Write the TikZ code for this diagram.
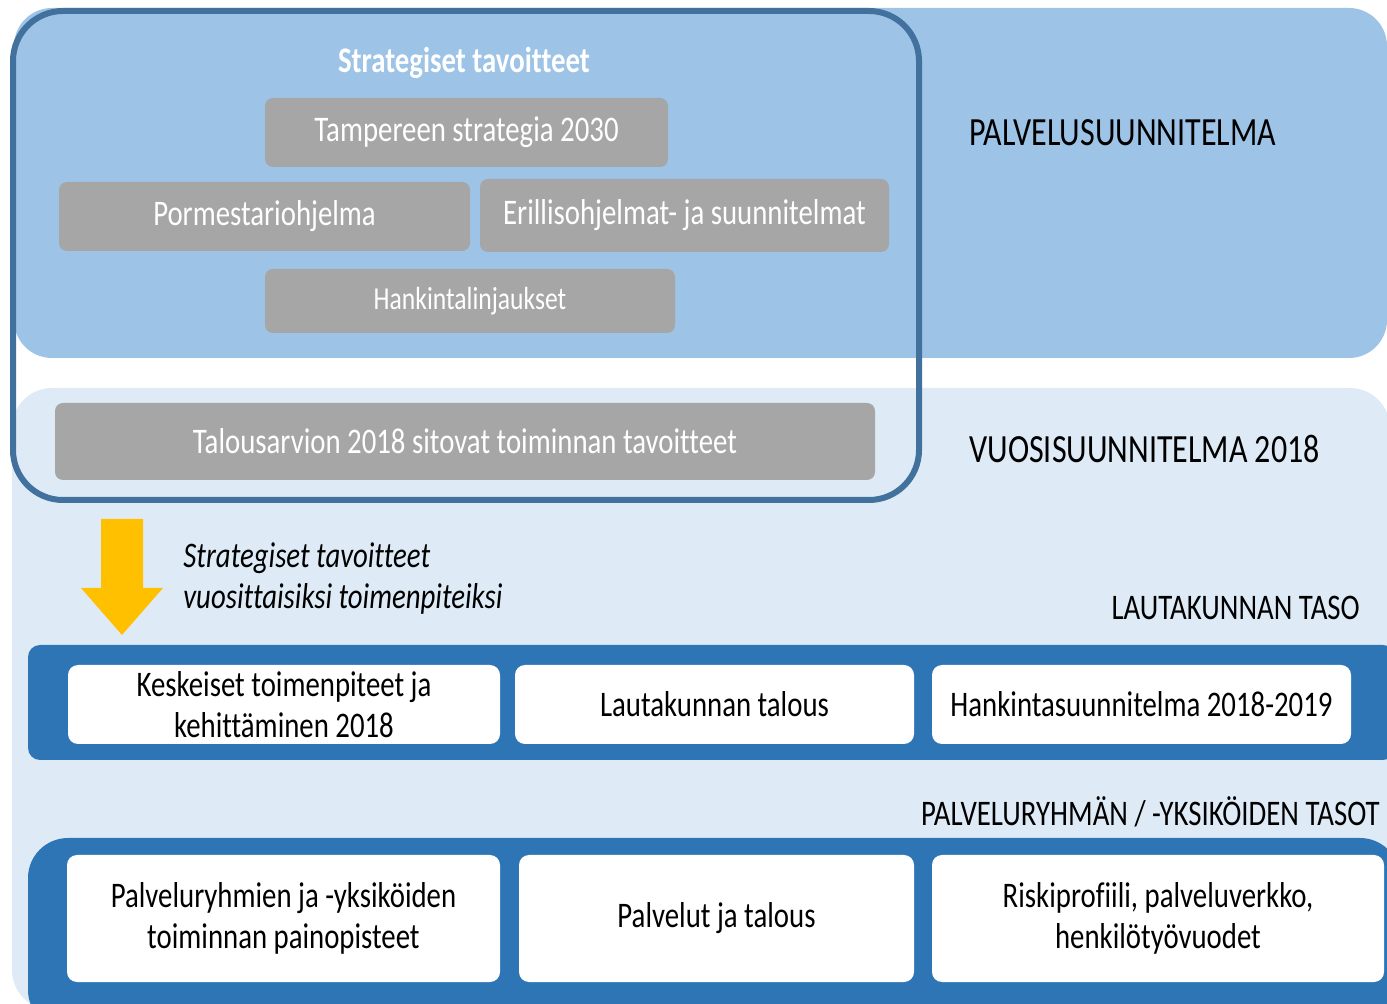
\documentclass[tikz,border=0pt]{standalone}
\usepackage{fontspec}
\setmainfont{Carlito}[FakeStretch=0.8, Ligatures=NoCommon]
\usetikzlibrary{positioning}
\definecolor{planblue}{HTML}{9DC3E6}
\definecolor{yearblue}{HTML}{DEEBF7}
\definecolor{frameblue}{HTML}{41719C}
\definecolor{levelblue}{HTML}{2E75B6}
\definecolor{goalgrey}{HTML}{A6A6A6}
\definecolor{arrowyellow}{HTML}{FFC000}

\begin{document}
\begin{tikzpicture}[
    x=0.5pt, y=-0.5pt,
    goal/.style={rectangle, rounded corners=4pt, fill=goalgrey, text=white, align=center, inner sep=0pt, font=\fontsize{18}{21}\selectfont},
    task/.style={rectangle, rounded corners=5pt, fill=white, align=center, inner sep=0pt, font=\fontsize{18}{20.5}\selectfont},
    levelname/.style={inner sep=0pt, anchor=east, yshift=-1pt, font=\fontsize{18}{21}\selectfont},
    planname/.style={inner sep=0pt, anchor=west, yshift=-1pt, font=\fontsize{20}{23}\selectfont}
  ]
    \useasboundingbox (0,0) rectangle (1387,1004);
    \clip (0,0) rectangle (1387,1004);

    \fill[planblue, rounded corners=19pt] (14,8) rectangle (1387,358);
    \fill[yearblue, rounded corners=20pt] (12,388) rectangle (1390,1010);
    \fill[levelblue, rounded corners=6pt] (28,645) rectangle (1395,760);
    \fill[levelblue, rounded corners=20pt] (28,838) rectangle (1400,1030);
    \draw[frameblue, line width=3pt, rounded corners=25pt] (13,11) rectangle (919,500);

    \node[text=white, yshift=-1pt, font=\bfseries\fontsize{18}{21}\selectfont] (strat) at (464,61) {Strategiset tavoitteet};
    \node[goal, minimum width=201.5pt, minimum height=34.5pt] (tre) at (466.5,132.5) {Tampereen strategia 2030};
    \node[goal, minimum width=205.5pt, minimum height=34.5pt] (pormestari) at (264.5,216.5) {Pormestariohjelma};
    \node[goal, minimum width=204.5pt, minimum height=36.5pt] (erillis) at (684.5,215.5) {Erillisohjelmat- ja suunnitelmat};
    \node[goal, minimum width=205pt, minimum height=32pt, font=\fontsize{16}{19}\selectfont] (hankinta) at (470,301) {Hankintalinjaukset};
    \node[goal, minimum width=410pt, minimum height=38.5pt] (talousarvio) at (465,441.5) {Talousarvion 2018 sitovat toiminnan tavoitteet};

    \node[planname] (palvelus) at (969,131) {PALVELUSUUNNITELMA};
    \node[planname] (vuosi) at (969,447) {VUOSISUUNNITELMA 2018};

    \fill[arrowyellow] (101,519) -- (143,519) -- (143,588) -- (163,588) -- (122,635) -- (81,588) -- (101,588) -- cycle;
    \node[inner sep=0pt, anchor=west, align=left, yshift=-1pt, font=\itshape\fontsize{18}{20.5}\selectfont] (vuositoimet) at (183,576.5) {Strategiset tavoitteet\\vuosittaisiksi toimenpiteiksi};

    \node[levelname] (lautakunta) at (1360,606) {LAUTAKUNNAN TASO};
    \node[task, minimum width=216pt, minimum height=39.5pt] (keskeiset) at (284,704.5) {Keskeiset toimenpiteet ja\\kehittäminen 2018};
    \node[task, minimum width=199.5pt, minimum height=39.5pt] (ltalous) at (714.5,704.5) {Lautakunnan talous};
    \node[task, minimum width=209.5pt, minimum height=39.5pt] (hsuunnitelma) at (1141.5,704.5) {Hankintasuunnitelma 2018-2019};

    \node[levelname] (palveluryhma) at (1380,810) {PALVELURYHMÄN / -YKSIKÖIDEN TASOT};
    \node[task, minimum width=216.5pt, minimum height=63.5pt] (painopisteet) at (283.5,918.5) {Palveluryhmien ja -yksiköiden\\toiminnan painopisteet};
    \node[task, minimum width=197.5pt, minimum height=63.5pt] (ptalous) at (716.5,918.5) {Palvelut ja talous};
    \node[task, minimum width=226pt, minimum height=63.5pt] (riski) at (1158,918.5) {Riskiprofiili, palveluverkko,\\henkilötyövuodet};
\end{tikzpicture}
\end{document}
